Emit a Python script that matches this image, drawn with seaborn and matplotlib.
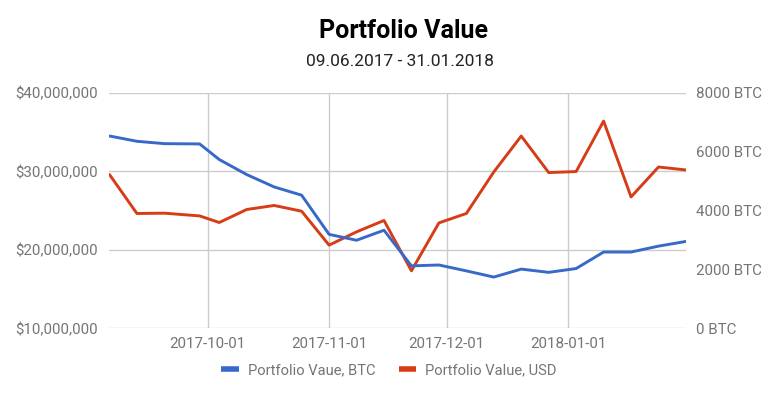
import pandas as pd
import matplotlib.pyplot as plt
import matplotlib.dates as mdates
import matplotlib.ticker as mticker
from matplotlib.lines import Line2D
import seaborn as sns

# Data
dates = ['2017-09-06', '2017-09-13', '2017-09-20', '2017-09-29', '2017-10-04',
         '2017-10-11', '2017-10-18', '2017-10-25', '2017-11-01', '2017-11-08',
         '2017-11-15', '2017-11-22', '2017-11-29', '2017-12-06', '2017-12-13',
         '2017-12-20', '2017-12-27', '2018-01-03', '2018-01-10', '2018-01-17',
         '2018-01-24', '2018-01-31']
value_btc = [6530, 6350, 6270, 6260, 5730, 5220, 4800, 4520, 3190, 2990, 3330,
             2120, 2150, 1950, 1740, 2010, 1900, 2030, 2590, 2590, 2790, 2950]
value_usd = [29.58, 24.62, 24.66, 24.31, 23.47, 25.13, 25.64, 24.91, 20.59, 22.28,
             23.73, 17.32, 23.42, 24.62, 29.91, 34.48, 29.83, 29.96, 36.39, 26.73,
             30.54, 30.16]  # millions USD

df = pd.DataFrame({'date': pd.to_datetime(dates),
                   'btc': value_btc,
                   'usd': [v * 1e6 for v in value_usd]})

blue = '#3869c9'
red = '#d63d16'
grey = '#757575'

sns.set_style('white')
plt.rcParams['font.family'] = ['Roboto', 'DejaVu Sans']

fig = plt.figure(figsize=(7.78, 3.98), dpi=100)
ax = fig.add_axes([0.1407, 0.1751, 0.8817 - 0.1407, 0.7671 - 0.1751])
ax2 = ax.twinx()

#USD on the left axis, BTC on the right axis
sns.lineplot(data=df, x='date', y='usd', ax=ax, color=red, linewidth=2.1)
sns.lineplot(data=df, x='date', y='btc', ax=ax2, color=blue, linewidth=2.1)
ax2.set_zorder(ax.get_zorder() + 1)

ax.set_xlim(df['date'].min(), df['date'].max())
ax.set_ylim(10e6, 40e6)
ax.set_yticks([10e6, 20e6, 30e6, 40e6])
ax.yaxis.set_major_formatter(mticker.FuncFormatter(lambda v, p: '${:,.0f}'.format(v)))
ax2.set_ylim(0, 8000)
ax2.set_yticks([0, 2000, 4000, 6000, 8000])
ax2.yaxis.set_major_formatter(mticker.FuncFormatter(lambda v, p: '{:.0f} BTC'.format(v)))

ax.xaxis.set_major_locator(mdates.MonthLocator())
ax.xaxis.set_major_formatter(mdates.DateFormatter('%Y-%m-%d'))

ax.grid(True, color='#cccccc', linewidth=1)
ax2.grid(False)
for a in (ax, ax2):
    a.set_xlabel('')
    a.set_ylabel('')
    for s in a.spines.values():
        s.set_visible(False)
    a.tick_params(length=0, labelsize=10.9, labelcolor=grey)
ax.tick_params(axis='y', pad=8)
ax2.tick_params(axis='y', pad=7)
ax.tick_params(axis='x', pad=6)

#Titles
fig.text(0.518, 1 - 31 / 398, 'Portfolio Value', ha='center', va='center',
         fontsize=18, fontweight='bold', color='black')
fig.text(0.514, 1 - 61 / 398, '09.06.2017 - 31.01.2018', ha='center', va='center',
         fontsize=12.5, color='#222222')

#Legend below the plot
handles = [Line2D([0], [0], color=blue, linewidth=4, solid_capstyle='butt'),
           Line2D([0], [0], color=red, linewidth=4, solid_capstyle='butt')]
labels = ['Portfolio Vaue, BTC', 'Portfolio Value, USD']
leg = fig.legend(handles, labels, loc='center', bbox_to_anchor=(0.5, 1 - 370 / 398),
                 ncol=2, frameon=False, handlelength=1.2, handletextpad=0.6,
                 columnspacing=1.6, fontsize=10.6)
for t in leg.get_texts():
    t.set_color(grey)

fig.savefig('out.png', dpi=100)
